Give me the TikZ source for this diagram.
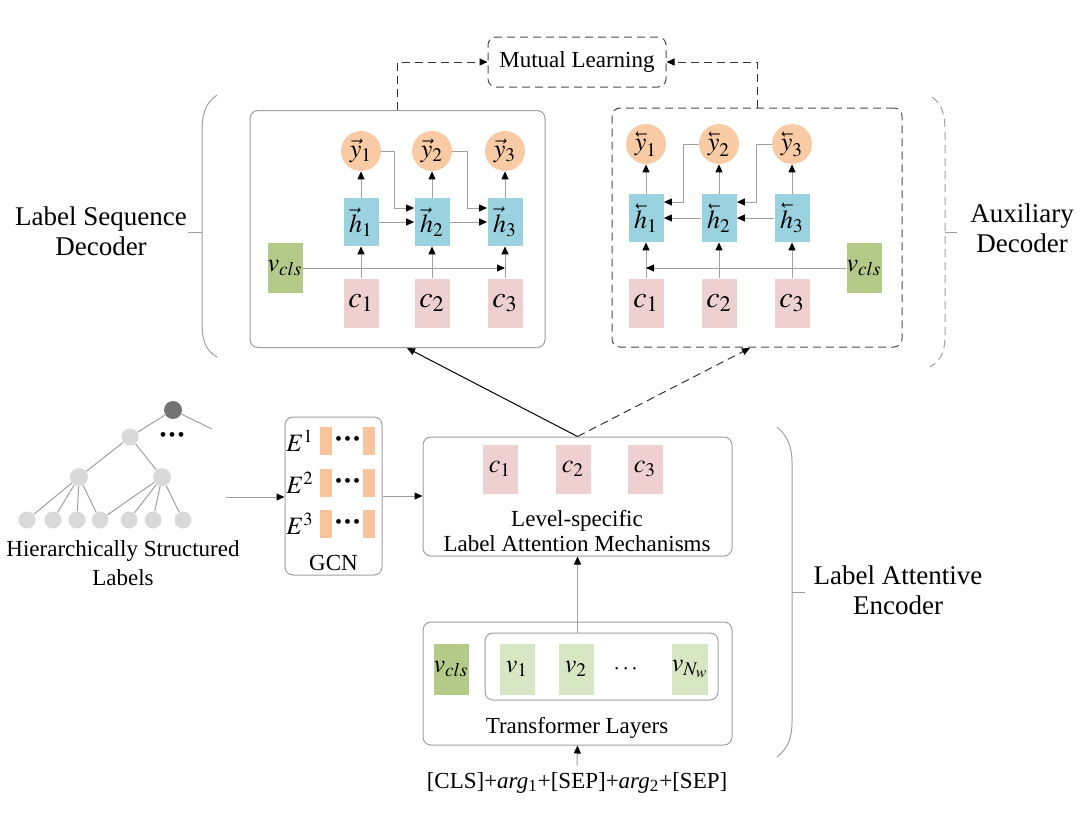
\documentclass[tikz,border=0pt]{standalone}
\usepackage{amsmath}
\usepackage{graphicx}
\usepackage{mathptmx}
\usepackage{fontspec}
\setmainfont{Liberation Serif}
\usepackage{tikz}
\usetikzlibrary{positioning,arrows.meta,calc}
\definecolor{yorange}{RGB}{248,203,165}
\definecolor{hblue}{RGB}{155,210,224}
\definecolor{cpink}{RGB}{239,208,208}
\definecolor{vgreen}{RGB}{180,202,136}
\definecolor{vlight}{RGB}{215,230,195}
\definecolor{ebar}{RGB}{248,196,156}
\newcommand{\bvec}[1]{\reflectbox{$\vec{\reflectbox{$#1$}}$}}
\newcommand{\bigdots}{{\fontsize{10}{10}\selectfont\textbullet\hspace{1pt}\textbullet\hspace{1pt}\textbullet}}
\tikzset{blk/.style={draw=gray!75,line width=0.5pt,rounded corners=4pt},
  dblk/.style={blk,draw=black!70,dash pattern=on 4pt off 2.5pt},
  cbox/.style={fill=cpink,minimum width=17.5pt,minimum height=24.5pt,inner sep=0pt},
  hbox/.style={fill=hblue,minimum width=17.5pt,minimum height=24pt,inner sep=0pt},
  ycirc/.style={circle,fill=yorange,minimum size=20pt,inner sep=0pt},
  vbox/.style={fill=vgreen,minimum width=17.5pt,minimum height=25pt,inner sep=0pt},
  vlbox/.style={fill=vlight,minimum width=17.5pt,minimum height=25.5pt,inner sep=0pt},
  ebox/.style={fill=ebar,minimum width=6pt,minimum height=14pt,inner sep=0pt},
  leaf/.style={circle,fill=gray!30,minimum size=8.5pt,inner sep=0pt},
  link/.style={draw=gray!75,line width=0.5pt},
  arr/.style={link,-{Triangle[length=4pt,width=3.5pt,color=black]}},
  darr/.style={draw=black!80,line width=0.5pt,dash pattern=on 4pt off 2.5pt,-{Triangle[length=4pt,width=3.5pt,color=black]}},
  brc/.style={draw=gray!75,line width=0.5pt},
  side/.style={align=center,font=\fontsize{13.5}{15}\selectfont},
  mth/.style={font=\fontsize{13}{13}\selectfont}}

\begin{document}
\begin{tikzpicture}[x=0.5pt,y=-0.5pt,font=\fontsize{11.5}{14.5}\selectfont]
\useasboundingbox (0,0) rectangle (1080,830);

% mutual learning and decoders
\node[dblk,minimum width=89pt,minimum height=25pt] (mut) at (577,62) {Mutual Learning};
\node[blk,minimum width=147.5pt,minimum height=118.5pt] (ldec) at (397.5,229) {};
\node[dblk,minimum width=145pt,minimum height=119.5pt] (rdec) at (757,227.5) {};
\draw[darr] (ldec.north) |- (mut.west);
\draw[darr] (rdec.north) |- (mut.east);

% label sequence decoder
\foreach \i/\x in {1/361,2/432,3/505} {
  \node[ycirc,mth] (ly\i) at (\x,151) {$\vec{y}_\i$};
  \node[hbox,mth] (lh\i) at (\x,222) {$\vec{h}_\i$};
  \node[cbox,font=\fontsize{15}{15}\selectfont] (lc\i) at (\x,303) {$c_\i$};
  \draw[arr] (lc\i) -- (lh\i);
  \draw[arr] (lh\i) -- (ly\i);
}
\node[vbox,mth] (lv) at (285,268) {$v_{cls}$};
\draw[arr] (lh1) -- (lh2);
\draw[arr] (lh2) -- (lh3);
\draw[arr] (ly1.east) -| ([xshift=-10pt,yshift=7pt]lh2.west) -- ([yshift=7pt]lh2.west);
\draw[arr] (ly2.east) -| ([xshift=-10pt,yshift=7pt]lh3.west) -- ([yshift=7pt]lh3.west);
\draw[arr] (lv.east) -- (lv.east -| lc3.north);

% auxiliary decoder
\foreach \i/\x in {1/646,2/719,3/792} {
  \node[ycirc,mth] (ry\i) at (\x,144) {$\bvec{y}_\i$};
  \node[hbox,mth] (rh\i) at (\x,218) {$\bvec{h}_\i$};
  \node[cbox,font=\fontsize{15}{15}\selectfont] (rc\i) at (\x,303) {$c_\i$};
  \draw[arr] (rc\i) -- (rh\i);
  \draw[arr] (rh\i) -- (ry\i);
}
\node[vbox,mth] (rv) at (864,268) {$v_{cls}$};
\draw[arr] (rh2) -- (rh1);
\draw[arr] (rh3) -- (rh2);
\draw[arr] (ry2.west) -| ([xshift=10pt,yshift=8pt]rh1.east) -- ([yshift=8pt]rh1.east);
\draw[arr] (ry3.west) -| ([xshift=10pt,yshift=8pt]rh2.east) -- ([yshift=8pt]rh2.east);
\draw[arr] (rv.west) -- (rv.west -| rc1.north);

% braces and side labels
\draw[brc] (217,95) .. controls (205,103) and (202,115) .. (202,132) -- (202,322)
  .. controls (202,340) and (205,350) .. (217,357);
\draw[brc] (202,232) -- (188,232);
\node[side] (lsd) at (101,231) {Label Sequence\\Decoder};
\draw[brc,dash pattern=on 4pt off 2.5pt] (932,97) .. controls (942,104) and (945,115) .. (945,130) -- (945,335)
  .. controls (945,350) and (942,360) .. (930,367);
\draw[brc] (945,232) -- (957,232);
\node[side] (aux) at (1022,228) {Auxiliary\\Decoder};
\draw[brc] (777,427) .. controls (788,436) and (792,448) .. (792,462) -- (792,722)
  .. controls (792,738) and (788,748) .. (777,757);
\draw[brc] (792,592) -- (805,592);
\node[side] (lae) at (898,590) {Label Attentive\\Encoder};

% encoder
\node[blk,minimum width=154.5pt,minimum height=59.5pt] (att) at (577.5,496.5) {};
\foreach \i/\x in {1/500,2/573,3/645}
  \node[cbox,mth] (ac\i) at (\x,469) {$c_\i$};
\node[align=center,font=\fontsize{11.5}{12.5}\selectfont] (lsam) at (577,531) {Level-specific\\Label Attention Mechanisms};
\coordinate (lin) at (407,348);
\coordinate (rin) at (750,348);
\draw[black,line width=0.5pt,-{Triangle[length=4pt,width=3.5pt]}] (att.north) -- (lin);
\draw[darr] (att.north) -- (rin);

\node[blk,minimum width=154.5pt,minimum height=61.5pt] (trf) at (577.5,683.5) {};
\node[blk,minimum width=116.5pt,minimum height=33.5pt] (seq) at (601.5,666.5) {};
\node[vbox,minimum height=25.5pt,mth] (ev) at (451,669) {$v_{cls}$};
\node[vlbox,mth] (ev1) at (517,669) {$v_1$};
\node[vlbox,mth] (ev2) at (576,669) {$v_2$};
\node (edots) at (627,669) {$\cdots$};
\node[vlbox,mth] (evn) at (690,669) {$v_{N_w}$};
\node (tl) at (577,728) {Transformer Layers};
\draw[arr] (att.south |- seq.north) -- (att.south);
\node (inp) at (577,783) {[CLS]+\textit{arg}\textsubscript{1}+[SEP]+\textit{arg}\textsubscript{2}+[SEP]};
\draw[arr] (inp.north) -- (trf.south);

% GCN
\node[blk,minimum width=48.5pt,minimum height=79pt] (gcn) at (333.5,496) {};
\foreach \k/\y in {1/441,2/483,3/524} {
  \node[font=\fontsize{12.5}{12.5}\selectfont] (e\k) at (300,\y) {$E^\k$};
  \node[ebox] (bl\k) at (326,\y) {};
  \node[ebox] (br\k) at (369,\y) {};
  \node[inner sep=0pt] (d\k) at (347.5,\y) {\bigdots};
}
\node (gl) at (333.5,563) {GCN};
\draw[arr] (gcn.east) -- (gcn.east -| att.west);

% label tree
\node[circle,fill=black!55,minimum size=9pt,inner sep=0pt] (root) at (173,410) {};
\node[leaf] (n1) at (130,437) {};
\node[inner sep=0pt] (tdots) at (172,437) {\bigdots};
\coordinate (rt) at (212,429);
\node[leaf,minimum size=9pt] (n21) at (79,477) {};
\node[leaf,minimum size=9pt] (n22) at (162,477) {};
\foreach \j/\x in {1/27,2/53,3/77,4/100,5/129,6/153,7/183}
  \node[leaf] (l\j) at (\x,520) {};
\draw[link] (root) -- (n1);
\draw[link] (root) -- (rt);
\draw[link] (n1) -- (n21);
\draw[link] (n1) -- (n22);
\foreach \j in {1,2,3,4} \draw[link] (n21) -- (l\j);
\foreach \j in {4,5,6,7} \draw[link] (n22) -- (l\j);
\node[align=center] (hsl) at (123,563) {Hierarchically Structured\\Labels};
\coordinate (tr) at (226,497);
\draw[arr] (tr) -- (tr -| gcn.west);
\end{tikzpicture}
\end{document}
